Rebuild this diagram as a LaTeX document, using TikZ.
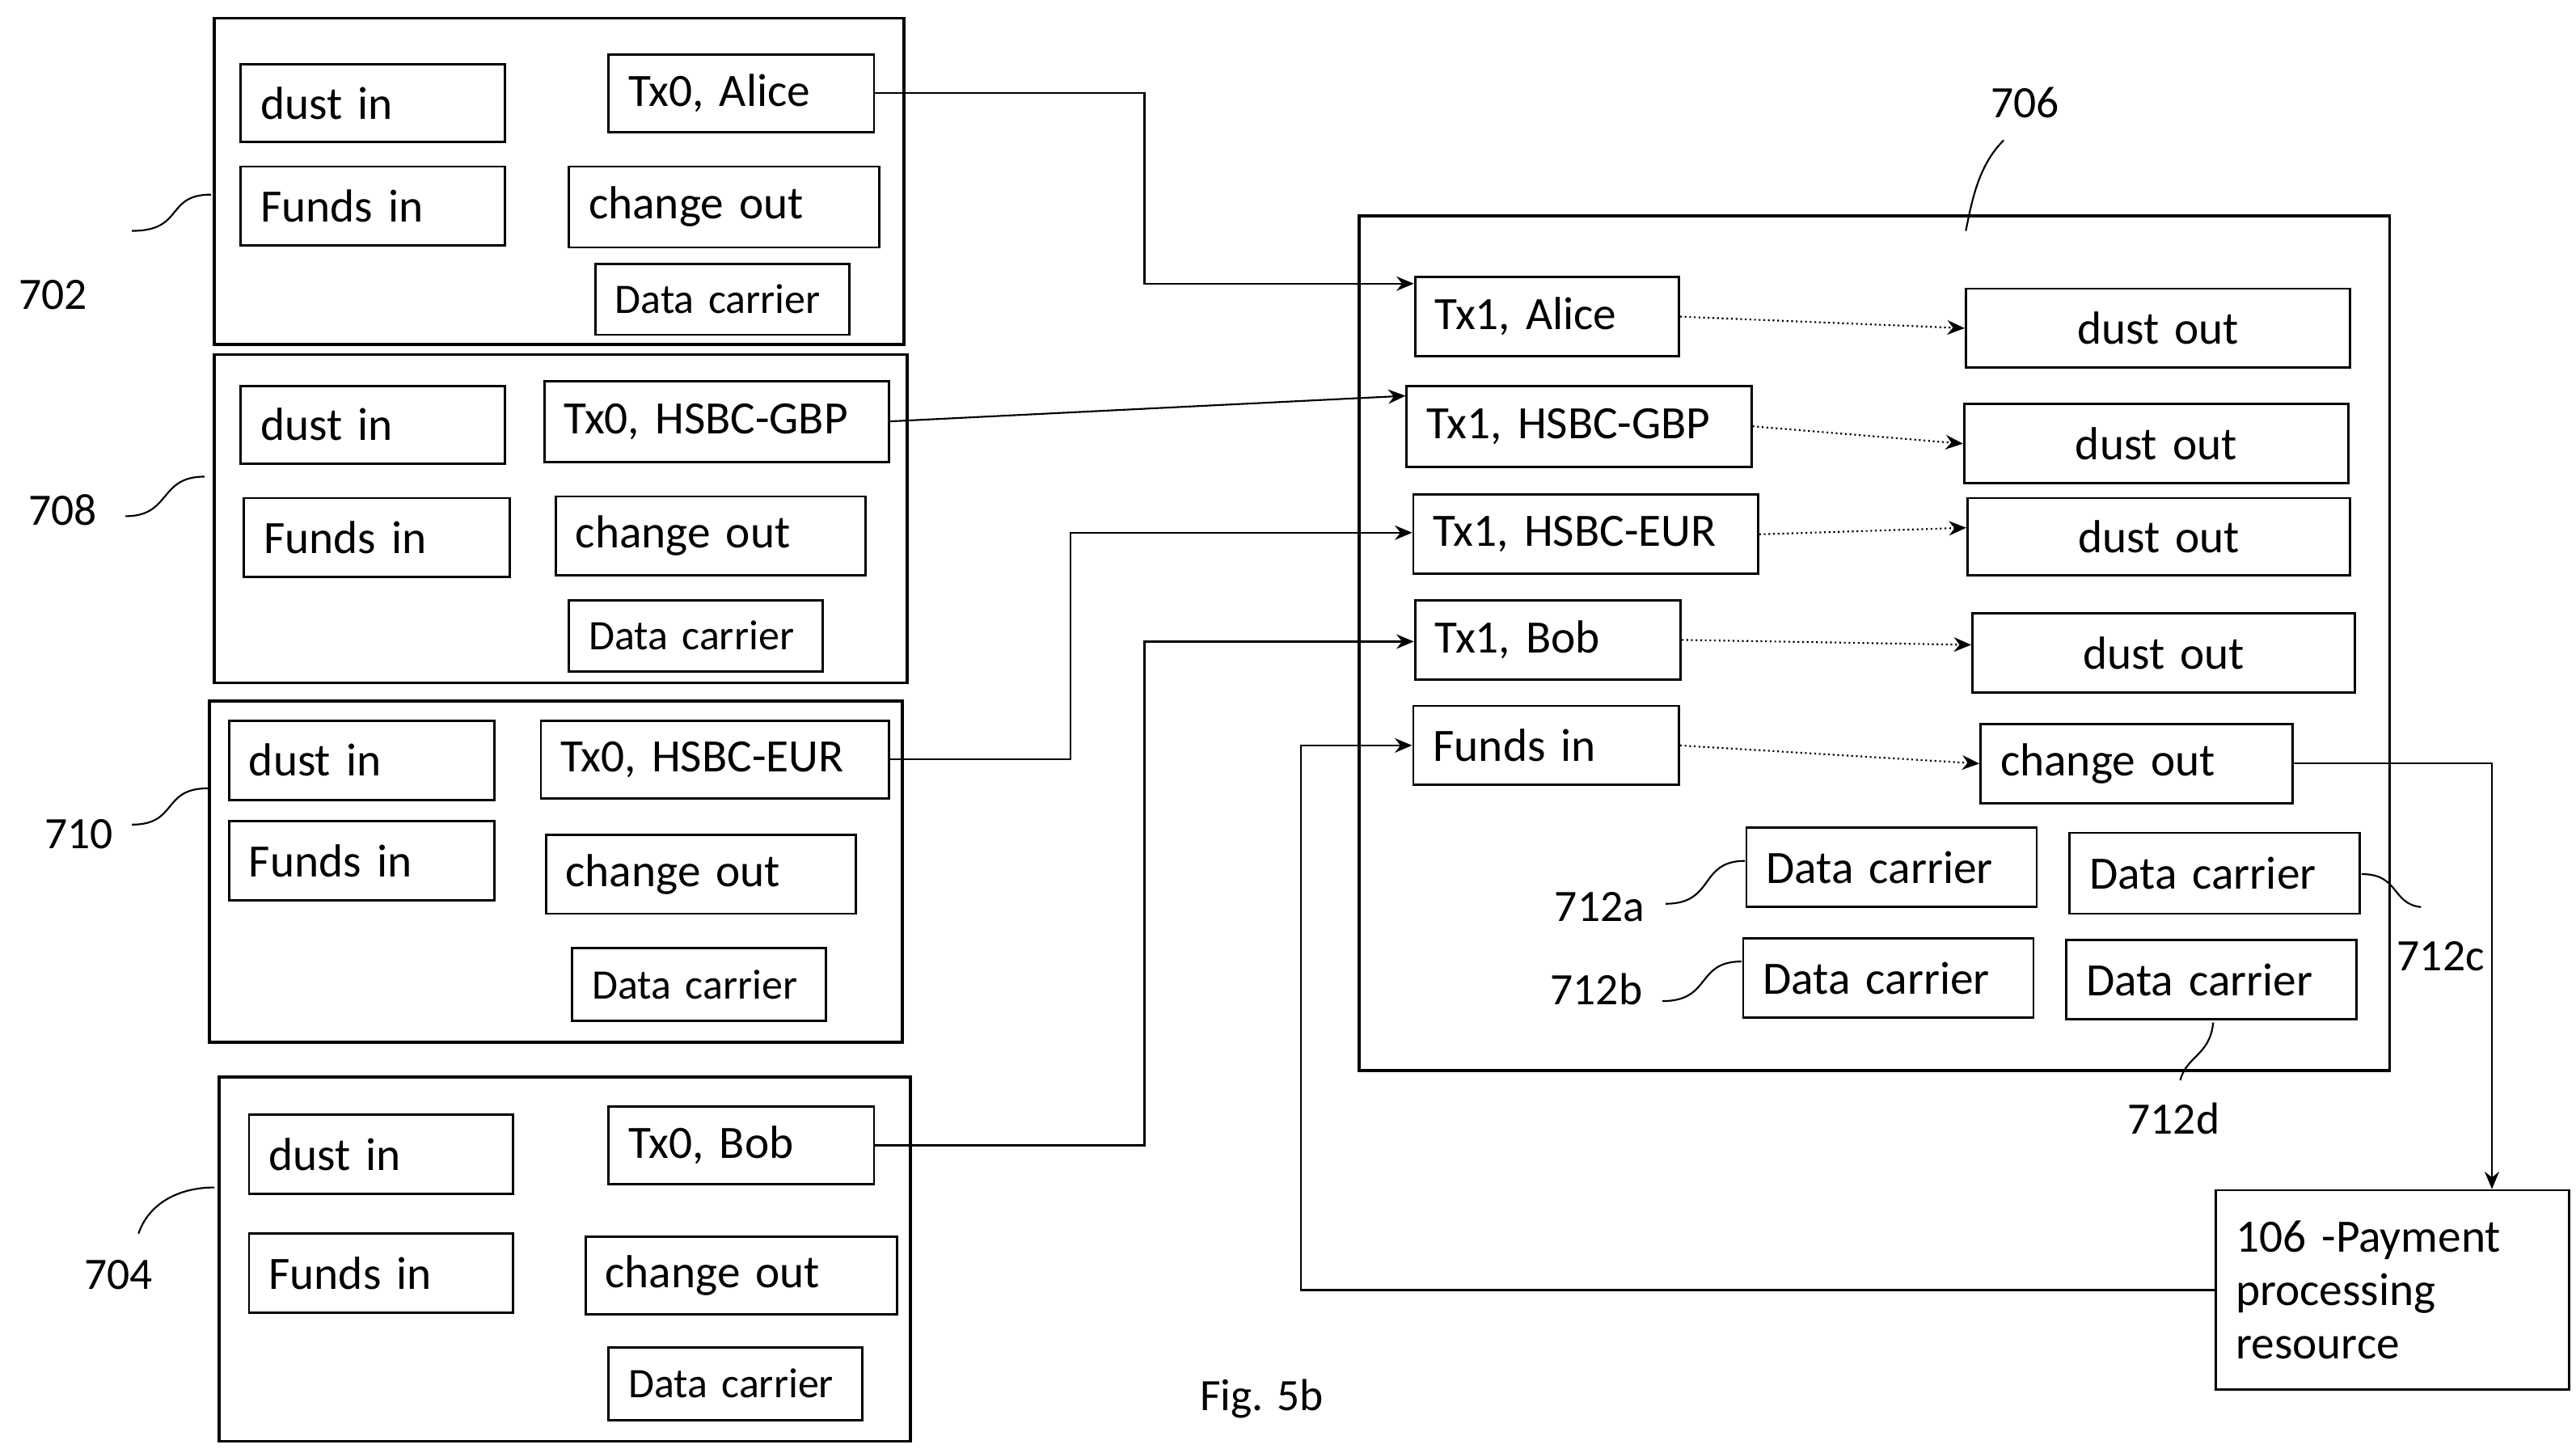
\documentclass[tikz,border=0pt]{standalone}
\usepackage{fontspec}
\setmainfont{Carlito}
\usetikzlibrary{arrows.meta}
\begin{document}
\begin{tikzpicture}[x=0.02cm,y=-0.02cm,
  box/.style={draw,line width=0.8pt,rectangle,inner xsep=0.24cm,inner ysep=0pt,font=\fontsize{16}{19}\selectfont},
  small/.style={font=\fontsize{14.5}{17}\selectfont},
  grp/.style={draw,line width=1pt},
  arr/.style={-{Stealth[length=6pt,width=5pt]},line width=0.6pt},
  dot/.style={arr,densely dotted},
  sq/.style={line width=0.6pt},
  lab/.style={font=\fontsize{15.5}{18}\selectfont}]
\useasboundingbox (0,0) rectangle (1562,881);
\newcommand\bx[7][]{\node[box,#1,minimum width={(#5-#3)*0.02cm},minimum height={(#6-#4)*0.02cm},text width={(#5-#3)*0.02cm-0.48cm},align=left] (#2) at ({(#3+#5)/2},{(#4+#6)/2}) {#7};}
% groups
\draw[grp] (130,11) rectangle (548,209);
\draw[grp] (130,215) rectangle (550,414);
\draw[grp] (127,425) rectangle (547,632);
\draw[grp] (133,653) rectangle (552,874);
\draw[grp] (824,131) rectangle (1449,649);
% 702
\bx{a1}{146}{39}{306}{86}{dust in}
\bx{t0a}{369}{33}{530}{80}{Tx0, Alice}
\bx{a2}{146}{101}{306}{149}{Funds in}
\bx{a3}{345}{101}{533}{150}{change out}
\bx[small]{a4}{361}{160}{515}{203}{Data carrier}
% 708
\bx{b1}{146}{234}{306}{281}{dust in}
\bx{t0g}{330}{231}{539}{280}{Tx0, HSBC-GBP}
\bx{b2}{148}{302}{309}{350}{Funds in}
\bx{b3}{337}{301}{525}{349}{change out}
\bx[small]{b4}{345}{364}{499}{407}{Data carrier}
% 710
\bx{c1}{139}{437}{300}{485}{dust in}
\bx{t0e}{328}{437}{539}{484}{Tx0, HSBC-EUR}
\bx{c2}{139}{498}{300}{546}{Funds in}
\bx{c3}{331}{506}{519}{554}{change out}
\bx[small]{c4}{347}{575}{501}{619}{Data carrier}
% 704
\bx{d1}{151}{676}{311}{724}{dust in}
\bx{t0b}{369}{671}{530}{718}{Tx0, Bob}
\bx{d2}{151}{748}{311}{796}{Funds in}
\bx{d3}{355}{750}{544}{797}{change out}
\bx[small]{d4}{369}{817}{523}{861}{Data carrier}
% 706
\bx{t1a}{858}{168}{1018}{216}{Tx1, Alice}
\bx{o1}{1192}{175}{1425}{223}{\hfill dust out\hfill\null}
\bx{t1g}{853}{234}{1062}{283}{Tx1, HSBC-GBP}
\bx{o2}{1191}{245}{1424}{293}{\hfill dust out\hfill\null}
\bx{t1e}{857}{300}{1066}{348}{Tx1, HSBC-EUR}
\bx{o3}{1193}{302}{1425}{349}{\hfill dust out\hfill\null}
\bx{t1b}{858}{364}{1019}{412}{Tx1, Bob}
\bx{o4}{1196}{372}{1428}{420}{\hfill dust out\hfill\null}
\bx{fi}{857}{428}{1018}{476}{Funds in}
\bx{co}{1201}{439}{1390}{487}{change out}
\bx{dca}{1059}{502}{1235}{550}{Data carrier}
\bx{dcc}{1255}{505}{1431}{554}{Data carrier}
\bx{dcb}{1057}{569}{1233}{617}{Data carrier}
\bx{dcd}{1253}{570}{1429}{618}{Data carrier}
\node[draw,line width=0.8pt,minimum width={214*0.02cm},minimum height={121*0.02cm},text width={214*0.02cm-0.48cm},inner xsep=0.24cm,align=left,anchor=north west,inner ysep=0.15cm,font=\fontsize{16}{18.5}\selectfont] (pp) at (1343,721) {106 -Payment\\processing\\resource};
% labels
\node[lab] (l702) at (32,179) {702};
\node[lab] (l708) at (38,309) {708};
\node[lab] (l710) at (48,506) {710};
\node[lab] (l704) at (72,773) {704};
\node[lab] (l706) at (1228,62) {706};
\node[lab] (l712a) at (970,550) {712a};
\node[lab] (l712b) at (968,600) {712b};
\node[lab] (l712c) at (1480,580) {712c};
\node[lab] (l712d) at (1318,678) {712d};
\node[lab] (fig) at (765,848) {Fig. 5b};
% squiggles
\draw[sq] (80,140) .. controls (112,140) and (100,118) .. (128,118);
\draw[sq] (76,313) .. controls (104,313) and (96,289) .. (124,289);
\draw[sq] (80,500) .. controls (108,500) and (98,478) .. (126,478);
\draw[sq] (84,748) .. controls (90,730) and (108,720) .. (130,720);
\draw[sq] (1215,85) .. controls (1200,100) and (1196,120) .. (1192,140);
\draw[sq] (1010,548) .. controls (1040,548) and (1030,522) .. (1058,522);
\draw[sq] (1008,607) .. controls (1038,607) and (1028,583) .. (1056,583);
\draw[sq] (1432,530) .. controls (1455,530) and (1450,548) .. (1468,550);
\draw[sq] (1342,620) .. controls (1340,640) and (1326,640) .. (1322,655);
% connectors
\draw[arr] (t0a.east) -| (694,172) -- (t1a.west |- 694,172);
\draw[arr] (t0g.east) -- (t1g.west |- 0,240);
\draw[arr] (t0e.east) -| (649,323) -- (t1e.west |- 0,323);
\draw[arr] (t0b.east) -| (694,389) -- (t1b.west |- 0,389);
\draw[dot] (t1a.east) -- (o1.west);
\draw[dot] (t1g.east) -- (o2.west);
\draw[dot] (t1e.east) -- (o3.west |- 0,320);
\draw[dot] (t1b.east) -- (o4.west |- 0,391);
\draw[dot] (fi.east) -- (co.west);
\draw[arr] (co.east) -| (pp.north -| 1511,0);
\draw[arr] (pp.west) -| (789,452) -- (fi.west |- 0,452);
\end{tikzpicture}
\end{document}
